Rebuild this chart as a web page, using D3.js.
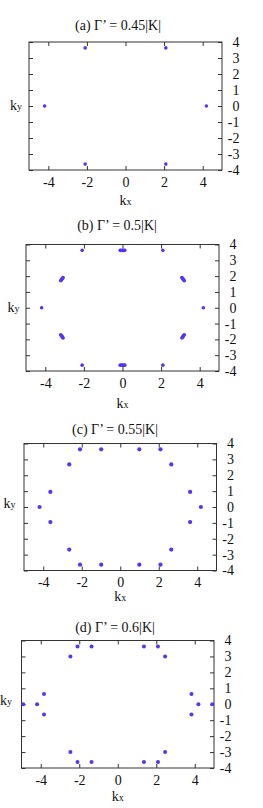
<!DOCTYPE html>
<html>
<head>
<meta charset="utf-8">
<script src="https://cdn.jsdelivr.net/npm/d3@7"></script>
<style>
    html, body { margin: 0; padding: 0; background: #fff; }
    svg text { font-family: "Liberation Serif", "Times New Roman", serif; fill: #111; }
</style>
</head>
<body>
<svg id="chart" width="263" height="808"></svg>
<script>
// panel titles and tick values
var titles = ["(a) \u0393\u2019 = 0.45|K|", "(b) \u0393\u2019 = 0.5|K|", "(c) \u0393\u2019 = 0.55|K|", "(d) \u0393\u2019 = 0.6|K|"];
var xTicks = [-4, -2, 0, 2, 4];
var yTicks = [-4, -3, -2, -1, 0, 1, 2, 3, 4];

// points, [kx, ky]
var pointsA = [[-4.19, 0], [4.19, 0], [-2.09, 3.63], [2.09, 3.63], [-2.09, -3.63], [2.09, -3.63]];
var pointsB = [[-4.19, 0], [4.19, 0], [-2.09, 3.63], [2.09, 3.63], [-2.09, -3.63], [2.09, -3.63],
    [-0.12, 3.63], [-0.06, 3.63], [0, 3.63], [0.06, 3.63], [0.12, 3.63],
    [-0.12, -3.63], [-0.06, -3.63], [0, -3.63], [0.06, -3.63], [0.12, -3.63],
    [3.08, 1.91], [3.11, 1.86], [3.14, 1.81], [3.17, 1.76], [3.20, 1.71],
    [-3.08, 1.91], [-3.11, 1.86], [-3.14, 1.81], [-3.17, 1.76], [-3.20, 1.71],
    [3.08, -1.91], [3.11, -1.86], [3.14, -1.81], [3.17, -1.76], [3.20, -1.71],
    [-3.08, -1.91], [-3.11, -1.86], [-3.14, -1.81], [-3.17, -1.76], [-3.20, -1.71]];
var pointsC = [[-4.19, 0], [4.19, 0], [-2.09, 3.63], [2.09, 3.63], [-2.09, -3.63], [2.09, -3.63],
    [-0.99, 3.63], [0.99, 3.63], [-0.99, -3.63], [0.99, -3.63],
    [-2.65, 2.68], [2.65, 2.68], [-2.65, -2.68], [2.65, -2.68],
    [-3.63, 0.95], [3.63, 0.95], [-3.63, -0.95], [3.63, -0.95]];
var pointsD = [[-4.19, 0], [4.19, 0], [-4.91, 0], [4.91, 0],
    [-2.09, 3.63], [2.09, 3.63], [-2.09, -3.63], [2.09, -3.63],
    [-1.36, 3.63], [1.36, 3.63], [-1.36, -3.63], [1.36, -3.63],
    [-2.46, 3.0], [2.46, 3.0], [-2.46, -3.0], [2.46, -3.0],
    [-3.83, 0.65], [3.83, 0.65], [-3.83, -0.65], [3.83, -0.65]];
var allPoints = [pointsA, pointsB, pointsC, pointsD];

// frame boxes
var boxes = [
    {l: 29, r: 222, t: 42, b: 170, tx: 118, ty: 30, kxy: 205, kyx: 10, kyy: 110, rad: 1.8},
    {l: 26, r: 219, t: 244.5, b: 371, tx: 117, ty: 230, kxy: 408, kyx: 7.5, kyy: 312, rad: 1.8},
    {l: 24, r: 216.5, t: 443.5, b: 570.5, tx: 115, ty: 433.5, kxy: 601, kyx: 3.5, kyy: 508, rad: 2.1},
    {l: 21.5, r: 214, t: 640.5, b: 768, tx: 115, ty: 632, kxy: 801, kyx: 0, kyy: 705, rad: 2.0}
];

var fontSize = 14;
// plain hyphen for negative labels, like the reference
var fmt = function (d) { return String(d); };

var svg = d3.select("#chart");

var drawPanel = function (i) {
    "use strict";
    var box, x, y, g, tickLen, bottomAxis, rightAxis, kx, ky;
    box = boxes[i];
    tickLen = 4;

    x = d3.scaleLinear().domain([-5, 5]).range([box.l, box.r]);
    y = d3.scaleLinear().domain([-4, 4]).range([box.b, box.t]);

    g = svg.append("g");

    // mirrored inward ticks on all four sides
    bottomAxis = g.append("g")
        .attr("transform", "translate(0," + box.b + ")")
        .call(d3.axisBottom(x).tickValues(xTicks).tickSize(-tickLen).tickFormat(fmt));
    g.append("g")
        .attr("transform", "translate(0," + box.t + ")")
        .call(d3.axisTop(x).tickValues(xTicks).tickSize(-tickLen).tickFormat(""));
    g.append("g")
        .attr("transform", "translate(" + box.l + ",0)")
        .call(d3.axisLeft(y).tickValues(yTicks).tickSize(-tickLen).tickFormat(""));
    rightAxis = g.append("g")
        .attr("transform", "translate(" + box.r + ",0)")
        .call(d3.axisRight(y).tickValues(yTicks).tickSize(-tickLen).tickFormat(fmt));

    g.selectAll(".domain").remove();
    g.selectAll(".tick line").attr("stroke", "#333");
    g.selectAll(".tick text")
        .attr("font-size", fontSize)
        .attr("fill", "#111");

    // y labels right aligned, x labels baseline under the frame
    rightAxis.selectAll(".tick text")
        .attr("text-anchor", "end")
        .attr("x", 17.5);
    bottomAxis.selectAll(".tick text")
        .attr("dy", null)
        .attr("y", 16.5);

    g.append("rect")
        .attr("x", box.l)
        .attr("y", box.t)
        .attr("width", box.r - box.l)
        .attr("height", box.b - box.t)
        .attr("fill", "none")
        .attr("stroke", "#333")
        .attr("stroke-width", 1);

    g.selectAll("circle")
        .data(allPoints[i])
        .enter().append("circle")
        .attr("cx", function (d) { return x(d[0]); })
        .attr("cy", function (d) { return y(d[1]); })
        .attr("r", box.rad)
        .attr("fill", "#5533ff");

    g.append("text")
        .attr("x", box.tx)
        .attr("y", box.ty)
        .attr("text-anchor", "middle")
        .attr("font-size", fontSize)
        .text(titles[i]);

    kx = g.append("text")
        .attr("x", (box.l + box.r) / 2)
        .attr("y", box.kxy)
        .attr("text-anchor", "middle")
        .attr("font-size", fontSize);
    kx.append("tspan").text("k");
    kx.append("tspan").attr("font-size", 10).text("x");

    ky = g.append("text")
        .attr("x", box.kyx)
        .attr("y", box.kyy)
        .attr("font-size", fontSize);
    ky.append("tspan").text("k");
    ky.append("tspan").attr("font-size", 10).text("y");
};

[0, 1, 2, 3].forEach(drawPanel);
</script>
</body>
</html>
